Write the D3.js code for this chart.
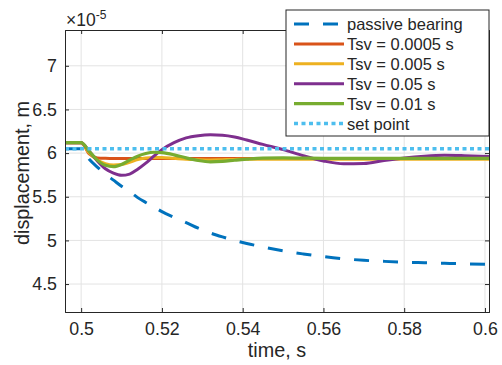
<!DOCTYPE html>
<html>
<head>
<meta charset="utf-8">
<script src="https://cdn.jsdelivr.net/npm/d3@7"></script>
<style>
  body { margin: 0; background: #fff; }
  text { font-family: "Liberation Sans", Arial, sans-serif; fill: #262626; }
</style>
</head>
<body>
<div id="chart"></div>
<script>
// time samples (s)
const time = [0.496, 0.5, 0.502, 0.504, 0.506, 0.508, 0.51, 0.512, 0.514, 0.516, 0.518, 0.52,
  0.523, 0.526, 0.529, 0.532, 0.535, 0.538, 0.541, 0.545, 0.55, 0.555, 0.56, 0.565, 0.57,
  0.575, 0.58, 0.585, 0.59, 0.595, 0.601];

// displacement values (x 1e-5 m)
const passive = [6.05, 6.05, 5.93, 5.84, 5.76, 5.69, 5.62, 5.56, 5.49, 5.435, 5.385, 5.33,
  5.265, 5.205, 5.14, 5.085, 5.04, 5.0, 4.965, 4.925, 4.88, 4.845, 4.815, 4.79, 4.772,
  4.76, 4.75, 4.744, 4.738, 4.732, 4.725];
const tsv00005 = [6.12, 6.12, 5.99, 5.945, 5.94, 5.938, 5.938, 5.938, 5.938, 5.938, 5.938, 5.938,
  5.938, 5.938, 5.938, 5.938, 5.938, 5.938, 5.938, 5.938, 5.938, 5.938, 5.938, 5.938, 5.938,
  5.938, 5.938, 5.938, 5.938, 5.938, 5.938];
const tsv0005 = [6.12, 6.12, 6.0, 5.92, 5.88, 5.865, 5.87, 5.895, 5.925, 5.945, 5.95, 5.95,
  5.94, 5.93, 5.925, 5.922, 5.925, 5.928, 5.93, 5.93, 5.93, 5.93, 5.93, 5.93, 5.93,
  5.93, 5.93, 5.93, 5.93, 5.93, 5.93];
const tsv005 = [6.12, 6.12, 6.02, 5.91, 5.82, 5.77, 5.745, 5.76, 5.815, 5.885, 5.965, 6.04,
  6.12, 6.175, 6.2, 6.21, 6.205, 6.185, 6.15, 6.1, 6.04, 5.97, 5.91, 5.877, 5.88,
  5.915, 5.945, 5.965, 5.975, 5.97, 5.96];
const tsv001 = [6.12, 6.12, 6.02, 5.92, 5.86, 5.845, 5.87, 5.92, 5.965, 5.995, 6.01, 6.005,
  5.98, 5.945, 5.915, 5.9, 5.905, 5.918, 5.93, 5.942, 5.945, 5.942, 5.94, 5.94, 5.94,
  5.94, 5.94, 5.94, 5.94, 5.94, 5.94];
const setPoint = 6.05;

const xTicks = [0.5, 0.52, 0.54, 0.56, 0.58, 0.6];
const yTicks = [4.5, 5, 5.5, 6, 6.5, 7];
const legendLabels = ['passive bearing', 'Tsv = 0.0005 s', 'Tsv = 0.005 s', 'Tsv = 0.05 s', 'Tsv = 0.01 s', 'set point'];

const W = 502, H = 365;
const margin = { top: 30, right: 13, bottom: 53, left: 65 };
const width = W - margin.left - margin.right;
const height = H - margin.top - margin.bottom;

const svg = d3.select('#chart').append('svg')
  .attr('width', W).attr('height', H);

const x = d3.scaleLinear().domain([0.496, 0.601]).range([0, width]);
const y = d3.scaleLinear().domain([4.18, 7.41]).range([height, 0]);

const g = svg.append('g').attr('transform', `translate(${margin.left},${margin.top})`);

// grid
g.append('g').selectAll('line').data(xTicks).enter().append('line')
  .attr('x1', d => x(d)).attr('x2', d => x(d)).attr('y1', 0).attr('y2', height)
  .attr('stroke', '#e3e3e3').attr('stroke-width', 1);
g.append('g').selectAll('line').data(yTicks).enter().append('line')
  .attr('y1', d => y(d)).attr('y2', d => y(d)).attr('x1', 0).attr('x2', width)
  .attr('stroke', '#e3e3e3').attr('stroke-width', 1);

g.append('clipPath').attr('id', 'clip').append('rect')
  .attr('width', width).attr('height', height);

const series = [
  { name: legendLabels[0], values: passive, color: '#0072BD', dash: '15,14', w: 3 },
  { name: legendLabels[1], values: tsv00005, color: '#D95319', dash: null, w: 3 },
  { name: legendLabels[2], values: tsv0005, color: '#EDB120', dash: null, w: 3 },
  { name: legendLabels[3], values: tsv005, color: '#7E2F8E', dash: null, w: 3 },
  { name: legendLabels[4], values: tsv001, color: '#77AC30', dash: null, w: 3.2 },
  { name: legendLabels[5], values: time.map(() => setPoint), color: '#4DBEEE', dash: '4,3.5', w: 3.5 }
];

const line = d3.line()
  .x((d, i) => x(time[i]))
  .y(d => y(d))
  .curve(d3.curveMonotoneX);

const lines = g.append('g').attr('clip-path', 'url(#clip)');
series.forEach(s => {
  lines.append('path')
    .attr('d', line(s.values))
    .attr('fill', 'none')
    .attr('stroke', s.color)
    .attr('stroke-width', s.w)
    .attr('stroke-dasharray', s.dash);
});

// axes (box with inward ticks)
const xAxis = d3.axisBottom(x).tickValues(xTicks).tickSize(-4).tickPadding(10)
  .tickFormat(d3.format('~g'));
const yAxis = d3.axisLeft(y).tickValues(yTicks).tickSize(-4).tickPadding(8)
  .tickFormat(d3.format('~g'));

const xa = g.append('g').attr('transform', `translate(0,${height})`).call(xAxis);
const ya = g.append('g').call(yAxis);
g.append('g').call(d3.axisTop(x).tickValues(xTicks).tickSize(-4).tickFormat(''));
g.append('g').attr('transform', `translate(${width},0)`)
  .call(d3.axisRight(y).tickValues(yTicks).tickSize(-4).tickFormat(''));

g.selectAll('.domain').attr('stroke', '#262626');
g.selectAll('.tick line').attr('stroke', '#262626');
[xa, ya].forEach(a => a.selectAll('text')
  .style('font-size', '17.8px')
  .style('font-family', '"Liberation Sans", Arial, sans-serif')
  .attr('fill', '#262626'));

// exponent label
const ex = svg.append('text').attr('x', 66).attr('y', 26).style('font-size', '17.5px');
ex.append('tspan').text('\u00d710');
ex.append('tspan').attr('dy', -7).style('font-size', '12px').text('-5');

// axis labels
svg.append('text')
  .attr('text-anchor', 'middle')
  .attr('x', margin.left + width / 2)
  .attr('y', 357)
  .style('font-size', '19.8px')
  .text('time, s');

svg.append('text')
  .attr('text-anchor', 'middle')
  .attr('transform', `translate(29,${margin.top + height / 2 + 2}) rotate(-90)`)
  .style('font-size', '19.8px')
  .text('displacement, m');

// legend
const leg = svg.append('g').attr('transform', 'translate(286,10)');
leg.append('rect')
  .attr('width', 203).attr('height', 126)
  .attr('fill', '#fff').attr('stroke', '#262626').attr('stroke-width', 1);
series.forEach((s, i) => {
  const yy = 14 + i * 19.9;
  leg.append('line')
    .attr('x1', 8).attr('x2', 58).attr('y1', yy).attr('y2', yy)
    .attr('stroke', s.color).attr('stroke-width', s.w)
    .attr('stroke-dasharray', s.dash);
  leg.append('text')
    .attr('x', 61).attr('y', yy + 6)
    .style('font-size', '16.5px')
    .text(s.name);
});
</script>
</body>
</html>
